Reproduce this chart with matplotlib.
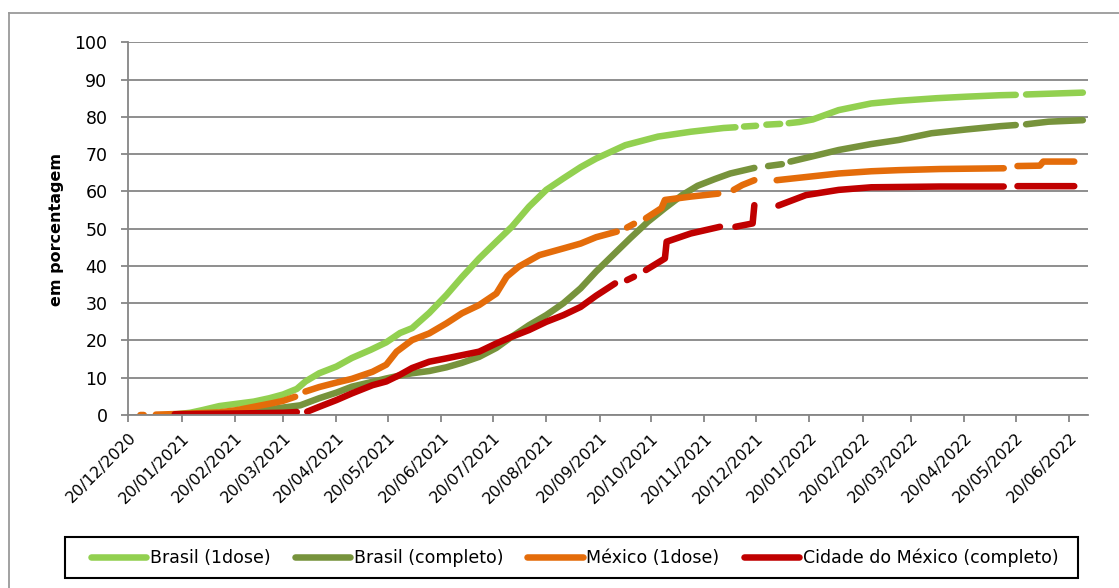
import numpy as np
import pandas as pd
import matplotlib
matplotlib.use("Agg")
import matplotlib.pyplot as plt
from matplotlib.lines import Line2D
from matplotlib.patches import Rectangle

plt.rcParams['font.family'] = ['DejaVu Sans']

# ---------------- data (None = gap in the series) ----------------
br1_dates = ["2021-01-17", "2021-01-25", "2021-02-01", "2021-02-11", "2021-02-21", "2021-03-03",
             "2021-03-12", "2021-03-20", "2021-03-28", "2021-04-02", "2021-04-10", "2021-04-20",
             "2021-04-29", "2021-05-10", "2021-05-19", "2021-05-27", "2021-06-03", "2021-06-13",
             "2021-06-23", "2021-07-02", "2021-07-12", "2021-07-22", "2021-07-31", "2021-08-10",
             "2021-08-20", "2021-08-30", "2021-09-09", "2021-09-18", "2021-10-05", "2021-10-24",
             "2021-11-12", "2021-12-01", "2021-12-08", "2021-12-10", "2021-12-13", "2021-12-20",
             "2021-12-23", "2021-12-26", "2022-01-03", "2022-01-05", "2022-01-08", "2022-01-14",
             "2022-01-22", "2022-02-06", "2022-02-25", "2022-03-13", "2022-04-04", "2022-04-21",
             "2022-05-11", "2022-05-20", "2022-05-23", "2022-05-26", "2022-06-08", "2022-06-28"]
br1_vals = [0.2, 0.6, 1.3, 2.4, 3.0, 3.6,
            4.5, 5.5, 7.0, 9.0, 11.2, 13.0,
            15.3, 17.5, 19.5, 22.0, 23.3, 27.4,
            32.2, 37.0, 42.0, 46.5, 50.5, 55.9,
            60.4, 63.5, 66.5, 68.8, 72.4, 74.7,
            76.0, 77.0, 77.2, None, 77.4, 77.6,
            None, 77.9, 78.1, None, 78.3, 78.6,
            79.3, 81.8, 83.6, 84.3, 85.0, 85.4,
            85.8, 85.9, None, 86.0, 86.2, 86.5]

br2_dates = ["2021-01-20", "2021-02-11", "2021-02-28", "2021-03-08", "2021-03-20", "2021-03-30",
             "2021-04-10", "2021-04-20", "2021-04-29", "2021-05-10", "2021-05-19", "2021-05-27",
             "2021-06-03", "2021-06-13", "2021-06-23", "2021-07-02", "2021-07-12", "2021-07-22",
             "2021-07-31", "2021-08-10", "2021-08-20", "2021-08-30", "2021-09-09", "2021-09-18",
             "2021-09-28", "2021-10-08", "2021-10-18", "2021-10-28", "2021-11-07", "2021-11-16",
             "2021-11-26", "2021-12-05", "2021-12-19", "2021-12-23", "2021-12-27", "2022-01-04",
             "2022-01-06", "2022-01-09", "2022-01-20", "2022-02-06", "2022-02-25", "2022-03-13",
             "2022-04-01", "2022-04-21", "2022-05-11", "2022-05-20", "2022-05-23", "2022-05-26",
             "2022-06-08", "2022-06-28"]
br2_vals = [0.0, 0.3, 0.8, 1.3, 2.0, 2.6,
            4.5, 6.0, 7.6, 8.8, 9.8, 10.6,
            11.2, 11.8, 12.8, 14.0, 15.6, 18.0,
            21.0, 24.1, 26.8, 30.0, 34.0, 38.5,
            43.0, 47.5, 51.8, 55.5, 59.0, 61.5,
            63.3, 64.8, 66.3, None, 66.8, 67.3,
            None, 68.0, 69.2, 71.1, 72.7, 73.8,
            75.6, 76.6, 77.5, 77.8, None, 78.0,
            78.7, 79.1]

mx1_dates = ["2020-12-27", "2020-12-29", "2021-01-02", "2021-01-05", "2021-01-20", "2021-02-11",
             "2021-02-21", "2021-03-03", "2021-03-14", "2021-03-20", "2021-03-27", "2021-03-30",
             "2021-04-02", "2021-04-10", "2021-04-20", "2021-04-29", "2021-05-11", "2021-05-19",
             "2021-05-25", "2021-06-03", "2021-06-13", "2021-06-23", "2021-07-02", "2021-07-12",
             "2021-07-22", "2021-07-28", "2021-08-04", "2021-08-16", "2021-08-30", "2021-09-09",
             "2021-09-18", "2021-09-30", "2021-10-03", "2021-10-06", "2021-10-10", "2021-10-13",
             "2021-10-17", "2021-10-26", "2021-10-28", "2021-11-12", "2021-11-28", "2021-12-02",
             "2021-12-07", "2021-12-12", "2021-12-19", "2021-12-26", "2022-01-01", "2022-02-06",
             "2022-02-25", "2022-03-13", "2022-04-06", "2022-05-13", "2022-05-17", "2022-05-21",
             "2022-06-03", "2022-06-05", "2022-06-23"]
mx1_vals = [0.0, 0.0, None, 0.1, 0.3, 0.7,
            1.3, 2.2, 3.2, 3.8, 4.9, None,
            6.3, 7.5, 8.7, 9.7, 11.6, 13.5,
            17.0, 20.1, 21.9, 24.6, 27.3, 29.5,
            32.6, 37.1, 39.8, 42.9, 44.7, 46.0,
            47.7, 49.2, None, 50.3, 51.3, None,
            52.8, 55.5, 57.7, 58.6, 59.4, None,
            60.4, 61.7, 63.0, None, 63.0, 64.8,
            65.4, 65.7, 66.0, 66.2, None, 66.8,
            66.9, 68.0, 68.0]

cdmx_dates = ["2021-01-16", "2021-02-20", "2021-03-20", "2021-03-28", "2021-03-31", "2021-04-03",
              "2021-04-10", "2021-04-20", "2021-04-29", "2021-05-11", "2021-05-19", "2021-05-27",
              "2021-06-03", "2021-06-13", "2021-06-23", "2021-07-12", "2021-07-22", "2021-07-31",
              "2021-08-10", "2021-08-20", "2021-08-30", "2021-09-09", "2021-09-18", "2021-09-29",
              "2021-10-03", "2021-10-06", "2021-10-10", "2021-10-13", "2021-10-17", "2021-10-28",
              "2021-10-29", "2021-11-12", "2021-11-29", "2021-12-03", "2021-12-08", "2021-12-18",
              "2021-12-19", "2021-12-26", "2022-01-02", "2022-01-18", "2022-02-06", "2022-02-25",
              "2022-04-06", "2022-05-13", "2022-05-17", "2022-05-21", "2022-06-23"]
cdmx_vals = [0.2, 0.4, 0.6, 0.8, None, 0.9,
             2.2, 4.0, 5.8, 8.0, 9.0, 10.8,
             12.6, 14.3, 15.2, 17.0, 19.2, 21.0,
             22.8, 25.0, 26.8, 29.0, 32.0, 35.3,
             None, 36.2, 37.1, None, 38.9, 42.0,
             46.5, 48.7, 50.5, None, 50.5, 51.4,
             56.3, None, 56.2, 59.0, 60.4, 61.1,
             61.3, 61.3, None, 61.4, 61.4]

series_names = ["Brasil (1dose)", "Brasil (completo)", "México (1dose)", "Cidade do México (completo)"]
series_colors = ["#92D050", "#77933C", "#E46C0A", "#C00000"]

tick_labels = ["20/12/2020", "20/01/2021", "20/02/2021", "20/03/2021", "20/04/2021", "20/05/2021",
               "20/06/2021", "20/07/2021", "20/08/2021", "20/09/2021", "20/10/2021", "20/11/2021",
               "20/12/2021", "20/01/2022", "20/02/2022", "20/03/2022", "20/04/2022", "20/05/2022",
               "20/06/2022"]
y_ticks = [0, 10, 20, 30, 40, 50, 60, 70, 80, 90, 100]
y_label = "em porcentagem"

# ---------------- figure ----------------
W, H = 1119, 588
fig = plt.figure(figsize=(W / 100, H / 100), dpi=100)
fig.patch.set_facecolor("white")

# outer chart-area frame (left and top edges visible)
frame_col = "#9A9A9A"
fig.add_artist(Line2D([8.5 / W, 8.5 / W], [0, 1 - 12.5 / H], transform=fig.transFigure,
                      color=frame_col, lw=1.3))
fig.add_artist(Line2D([8.5 / W, 1], [1 - 12.5 / H, 1 - 12.5 / H], transform=fig.transFigure,
                      color=frame_col, lw=1.3))

left, right, top, bottom = 128.3, 1088, 42.3, 415
ax = fig.add_axes([left / W, 1 - bottom / H, (right - left) / W, (bottom - top) / H])

LW = 4.7
all_series = [(br1_dates, br1_vals), (br2_dates, br2_vals), (mx1_dates, mx1_vals), (cdmx_dates, cdmx_vals)]
handles = []
for (d, v), name, col in zip(all_series, series_names, series_colors):
    x = pd.to_datetime(d)
    y = np.array([np.nan if val is None else val for val in v], dtype=float)
    ln, = ax.plot(x, y, color=col, lw=LW, solid_capstyle="round", solid_joinstyle="round", label=name)
    handles.append(ln)

grid_col = "#868686"
ax.set_ylim(0, 100)
ax.set_yticks(y_ticks)
ax.set_xlim(pd.Timestamp("2020-12-20"), pd.Timestamp("2022-07-01"))
tick_dates = pd.to_datetime(tick_labels, format="%d/%m/%Y")
ax.set_xticks(tick_dates)
ax.set_xticklabels(tick_labels, rotation=45, ha="right", va="top", rotation_mode="anchor", fontsize=11.5)
ax.tick_params(axis="y", labelsize=12.5, length=5, color=grid_col, width=1.3, pad=10)
ax.tick_params(axis="x", length=5, color=grid_col, width=1.3, pad=6)

ax.yaxis.grid(True, color=grid_col, lw=1.3)
ax.set_axisbelow(True)
for s in ["top", "right"]:
    ax.spines[s].set_visible(False)
for s in ["left", "bottom"]:
    ax.spines[s].set_color(grid_col)
    ax.spines[s].set_linewidth(1.3)

fig.text(57 / W, 1 - 229 / H, y_label, rotation=90, ha="center", va="center",
         fontsize=11.5, fontweight="bold")

# legend box
lx0, lx1, ly0, ly1 = 65, 1078, 537, 578
fig.add_artist(Rectangle((lx0 / W, 1 - ly1 / H), (lx1 - lx0) / W, (ly1 - ly0) / H,
                         transform=fig.transFigure, facecolor="white", edgecolor="black",
                         lw=1.5, zorder=1))
leg = fig.legend(handles=handles, labels=series_names, loc="center",
                 bbox_to_anchor=((lx0 + lx1) / 2 / W + 3 / W, 1 - (ly0 + ly1) / 2 / H),
                 ncol=4, fontsize=12.5, frameon=False,
                 handlelength=3.2, handletextpad=0.2, columnspacing=1.4, borderpad=0.3)
leg.set_zorder(2)
for lh in leg.get_lines():
    lh.set_linewidth(LW)
    lh.set_solid_capstyle("round")

fig.savefig("out.png", dpi=100)
